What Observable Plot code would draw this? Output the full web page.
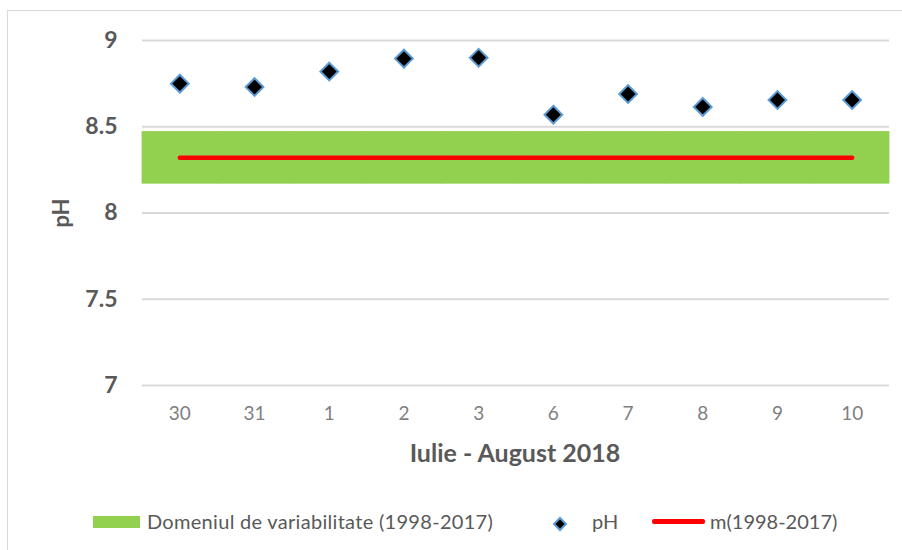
<!DOCTYPE html>
<html>
<head>
<meta charset="utf-8">
<script src="https://cdn.jsdelivr.net/npm/d3@7"></script>
<script src="https://cdn.jsdelivr.net/npm/@observablehq/plot@0.6"></script>
<style>
  html, body { margin: 0; padding: 0; background: #fff; }
  #wrap { position: relative; width: 902px; height: 550px; overflow: hidden; font-family: Lato, "Open Sans", sans-serif; }
  #frame { position: absolute; left: 7px; top: 10px; width: 1000px; height: 1000px; border-left: 1.5px solid #d9d9d9; border-top: 1.5px solid #d9d9d9; }
  .leg { position: absolute; font-size: 20px; color: #595959; white-space: nowrap; line-height: 1; }
</style>
</head>
<body>
<div id="wrap">
  <div id="frame"></div>
</div>
<script>
const days = ["30", "31", "1", "2", "3", "6", "7", "8", "9", "10"];
const phValues = [8.75, 8.73, 8.82, 8.895, 8.90, 8.57, 8.69, 8.615, 8.655, 8.655];
const rangeLow = 8.17;
const rangeHigh = 8.47;
const meanValue = 8.32;
const yTicks = [7, 7.5, 8, 8.5, 9];
const xTitle = "Iulie - August 2018";
const yTitle = "pH";
const legendLabels = ["Domeniul de variabilitate (1998-2017)", "pH", "m(1998-2017)"];

const pts = days.map((d, i) => ({day: d, ph: phValues[i]}));
const band = days.map(d => ({day: d, lo: rangeLow, hi: rangeHigh}));
const mean = days.map(d => ({day: d, m: meanValue}));

const chart = Plot.plot({
  width: 902,
  height: 550,
  marginLeft: 142,
  marginRight: 13,
  marginTop: 40,
  marginBottom: 165,
  style: {fontFamily: "Lato, 'Open Sans', sans-serif", background: "transparent"},
  x: {type: "band", domain: days, padding: 0, round: false},
  y: {domain: [7, 9]},
  marks: [
    Plot.ruleY(yTicks, {stroke: "#d9d9d9", strokeWidth: 2}),
    Plot.barY(band, {x: "day", y1: "lo", y2: "hi", fill: "#92d050", stroke: "#92d050", strokeWidth: 0.8, inset: 0}),
    Plot.lineY(mean, {x: "day", y: "m", stroke: "#ff0000", strokeWidth: 4.5, strokeLinecap: "round"}),
    Plot.dot(pts, {x: "day", y: "ph", symbol: "diamond2", r: 8, fill: "#000", stroke: "#5b9bd5", strokeWidth: 2}),
    Plot.axisY({ticks: yTicks, tickFormat: d => String(d), tickSize: 0, tickPadding: 25, fontSize: 23, fontWeight: "bold", fill: "#595959", label: null}),
    Plot.axisX({tickSize: 0, tickPadding: 21, fontSize: 19, fill: "#7f7f7f", label: null})
  ]
});
document.getElementById("wrap").appendChild(chart);
chart.style.position = "absolute";
chart.style.left = "0px";
chart.style.top = "0px";

const svg = d3.select(chart);
svg.append("text")
  .attr("x", 515).attr("y", 462)
  .attr("text-anchor", "middle")
  .attr("font-size", 25).attr("font-weight", "bold").attr("fill", "#595959")
  .text(xTitle);
svg.append("text")
  .attr("transform", "translate(69,213) rotate(-90)")
  .attr("text-anchor", "middle")
  .attr("font-size", 22).attr("font-weight", "bold").attr("fill", "#595959")
  .text(yTitle);

// Legend
const wrap = document.getElementById("wrap");
function add(html, style) {
  const d = document.createElement("div");
  d.className = "leg";
  d.innerHTML = html;
  Object.assign(d.style, style);
  wrap.appendChild(d);
  return d;
}
add("", {left: "93px", top: "516px", width: "47px", height: "12px", background: "#92d050"});
add(legendLabels[0], {left: "147px", top: "511px", letterSpacing: "0.3px"});
add('<svg width="16" height="16"><path d="M8,2 L14,8 L8,14 L2,8 Z" fill="#000" stroke="#5b9bd5" stroke-width="2"/></svg>', {left: "552px", top: "514px"});
add(legendLabels[1], {left: "592px", top: "511px"});
add("", {left: "652px", top: "519px", width: "53px", height: "4.5px", background: "#ff0000", borderRadius: "2px"});
add(legendLabels[2], {left: "710px", top: "511px"});
</script>
</body>
</html>
